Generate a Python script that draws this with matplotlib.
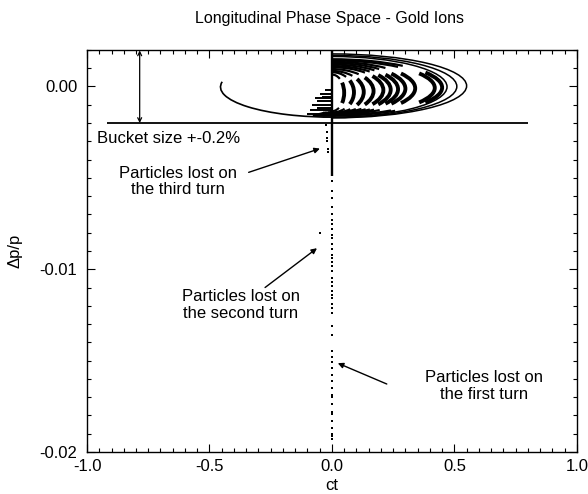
import numpy as np
import matplotlib
matplotlib.use("Agg")
import matplotlib.pyplot as plt
from matplotlib.path import Path
from matplotlib.patches import PathPatch
from matplotlib.transforms import Affine2D

plt.rcParams["font.family"] = ["Liberation Sans", "DejaVu Sans"]
plt.rcParams["axes.unicode_minus"] = False

# Synchrotron orbits inside the bucket: right half-ellipses centred on ct = 0
ring_a = [0.55, 0.51, 0.47, 0.45, 0.42, 0.34, 0.30, 0.27, 0.24, 0.21, 0.17, 0.13, 0.09, 0.05]
ring_b = [0.00175, 0.00170, 0.00166, 0.00155, 0.00150, 0.00145, 0.00140,
          0.00135, 0.00130, 0.00125, 0.00120, 0.00115, 0.00110, 0.00100]
ring_yc = [0.00003, 0.0, -0.00002, -0.00006, -0.00008, -0.0001, -0.00012,
           -0.00015, -0.00018, -0.0002, -0.00025, -0.0003, -0.00032, -0.00035]
# half-angle (deg) of the densely populated turning-point crescent of each orbit
crescent_deg = [90, 90, 90, 32, 32, 34, 36, 36, 38, 38, 38, 38, 36, 34]

# Orbit that spirals out on the negative-ct side
spiral_a, spiral_b, spiral_yc = 0.455, 0.00165, -0.00003
spiral_deg = (170, 272)

# Horizontal streaks just left of ct = 0
streak_y = [-0.0002, -0.0004, -0.00055, -0.00065, -0.0008, -0.0010,
            -0.0012, -0.0013, -0.0015]
streak_x0 = [-0.03, -0.05, -0.04, -0.07, -0.06, -0.08, -0.06, -0.09, -0.10]

# Lost particles
third_ct = [-0.025, -0.020, -0.020, -0.020, -0.018, -0.018]
third_dp = [-0.0021, -0.0025, -0.0028, -0.0030, -0.0034, -0.0036]
second_ct = [-0.05]
second_dp = [-0.0080]
first_dp = [-0.0052, -0.0057, -0.0061, -0.0066, -0.0070, -0.0073, -0.0075, -0.0078,
            -0.0081, -0.0083, -0.0086, -0.0089, -0.0092, -0.0094, -0.0096, -0.0098,
            -0.0101, -0.0105, -0.0107, -0.0109, -0.0112, -0.0114, -0.0116, -0.0119,
            -0.0121, -0.0124, -0.0131, -0.0136, -0.0145, -0.0148, -0.0151, -0.0154,
            -0.0158, -0.0161, -0.0165, -0.0169, -0.0170, -0.0174, -0.0178, -0.0179,
            -0.0183, -0.0187, -0.0190, -0.0191, -0.0193]
first_ct = [0.0] * len(first_dp)

bucket_dp = -0.002
bucket_ct = (-0.92, 0.80)
core_top, core_bottom = 0.002, -0.0049

x_ticks = [-1.0, -0.5, 0.0, 0.5, 1.0]
x_labels = ["-1.0", "-0.5", "0.0", "0.5", "1.0"]
y_ticks = [-0.02, -0.01, 0.0]
y_labels = ["-0.02", "-0.01", "0.00"]


def orbit_arc(ax, xc, yc, a, b, t1, t2, **kw):
    path = Path.arc(t1, t2).transformed(Affine2D().scale(a, b).translate(xc, yc))
    ax.add_patch(PathPatch(path, fill=False, capstyle="butt", **kw))


fig = plt.figure(figsize=(5.88, 4.94), dpi=100)
ax = fig.add_axes([0.148, 0.085, 0.833, 0.814])
ax.set_xlim(-1.0, 1.0)
ax.set_ylim(-0.02, 0.002)

for a, b, yc, cd in zip(ring_a, ring_b, ring_yc, crescent_deg):
    if cd >= 90:
        orbit_arc(ax, 0.0, yc, a, b, -90, 90, lw=1.1, color="black")
    else:
        orbit_arc(ax, 0.0, yc, a, b, -cd, cd, lw=2.8, color="black")
        orbit_arc(ax, 0.0, yc, a, b, 50, 90, lw=1.6, color="black")
        orbit_arc(ax, 0.0, yc, a, b, -100, -55, lw=1.5, color="black")

orbit_arc(ax, 0.0, spiral_yc, spiral_a, spiral_b, spiral_deg[0], spiral_deg[1],
          lw=1.2, color="black")

ax.hlines(streak_y, streak_x0, 0.0, color="black", lw=1.4)
ax.vlines(0.0, core_bottom, core_top, color="black", lw=1.7)
ax.hlines(bucket_dp, bucket_ct[0], bucket_ct[1], color="black", lw=1.3)

ax.plot(first_ct, first_dp, "s", ms=1.8, color="black", mew=0)
ax.plot(third_ct, third_dp, "s", ms=1.8, color="black", mew=0)
ax.plot(second_ct, second_dp, "s", ms=1.8, color="black", mew=0)

ax.annotate("", xy=(-0.785, bucket_dp), xytext=(-0.785, 0.00197),
            arrowprops=dict(arrowstyle="<->", lw=0.9, color="black",
                            shrinkA=0, shrinkB=0, mutation_scale=7))
ax.text(-0.96, -0.00284, "Bucket size +-0.2%", fontsize=12, ha="left", va="center")

arrow = dict(arrowstyle="-|>", lw=1.0, color="black", shrinkA=0, shrinkB=0,
             mutation_scale=8)
ax.annotate("", xy=(-0.049, -0.0034), xytext=(-0.34, -0.0047), arrowprops=arrow)
ax.text(-0.627, -0.0052, "Particles lost on\nthe third turn", fontsize=12,
        ha="center", va="center", linespacing=1.15)
ax.annotate("", xy=(-0.061, -0.00885), xytext=(-0.273, -0.0110), arrowprops=arrow)
ax.text(-0.373, -0.01197, "Particles lost on\nthe second turn", fontsize=12,
        ha="center", va="center", linespacing=1.15)
ax.annotate("", xy=(0.024, -0.01514), xytext=(0.224, -0.01628), arrowprops=arrow)
ax.text(0.620, -0.01637, "Particles lost on\nthe first turn", fontsize=12,
        ha="center", va="center", linespacing=1.15)

ax.set_xticks(x_ticks)
ax.set_xticklabels(x_labels)
ax.set_yticks(y_ticks)
ax.set_yticklabels(y_labels)
ax.set_xticks(np.arange(-1.0, 1.0001, 0.05), minor=True)
ax.set_yticks(np.arange(-0.02, 0.0021, 0.001), minor=True)
ax.tick_params(which="both", direction="in", top=True, right=True, labelsize=12,
               width=0.8, color="black")
ax.tick_params(which="major", length=6)
ax.tick_params(axis="x", which="major", pad=5)
ax.tick_params(axis="y", which="major", pad=7)
ax.tick_params(which="minor", length=3)
for s in ax.spines.values():
    s.set_linewidth(1.0)

ax.set_xlabel("ct", fontsize=12, labelpad=3)
ax.set_ylabel("Δp/p", fontsize=12, labelpad=12)
fig.text(0.561, 0.963, "Longitudinal Phase Space - Gold Ions", fontsize=11.5,
         ha="center", va="center")

fig.savefig("out.png", dpi=100)
